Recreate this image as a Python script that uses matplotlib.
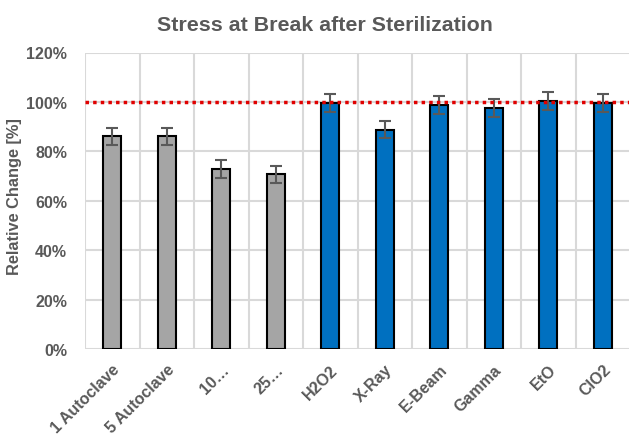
import matplotlib
matplotlib.use("Agg")
import matplotlib.pyplot as plt
import numpy as np

categories = ["1 Autoclave", "5 Autoclave", "10…", "25…", "H2O2", "X-Ray",
              "E-Beam", "Gamma", "EtO", "ClO2"]
values = [86.1, 86.1, 72.9, 70.7, 99.6, 88.8, 98.9, 97.4, 100.5, 99.6]
errors = [3.5, 3.5, 3.5, 3.5, 3.5, 3.5, 3.6, 3.6, 3.6, 3.5]
groups = ["autoclave"] * 4 + ["other"] * 6
yticks = [0, 20, 40, 60, 80, 100, 120]
reference = 100

colors = {"autoclave": "#A5A5A5", "other": "#0070C0"}
text_color = "#595959"
grid_color = "#D9D9D9"

plt.rcParams['font.family'] = ['Liberation Sans', 'DejaVu Sans']

fig = plt.figure(figsize=(6.29, 4.39), dpi=100)
ax = fig.add_axes([85/629, 89/439, 545/629, 296.5/439])

x = np.arange(len(categories))
ax.bar(x, values, width=0.33, color=[colors[g] for g in groups],
       edgecolor="black", linewidth=1.5, zorder=3)
ax.errorbar(x, values, yerr=errors, fmt="none", ecolor="#595959",
            elinewidth=1.5, capsize=4.5, capthick=1.5, zorder=4)
ax.axhline(reference, color="#E00000", linestyle=(0, (1, 1.2)), linewidth=2.5, zorder=5)

ax.set_xlim(-0.5, len(categories) - 0.5)
ax.set_ylim(0, 120)
ax.set_yticks(yticks)
ax.set_yticklabels([f"{t}%" for t in yticks])
ax.set_xticks(x)
ax.set_xticklabels(categories, rotation=45, ha="right", rotation_mode="anchor")

ax.set_xticks(np.arange(len(categories) + 1) - 0.5, minor=True)
ax.grid(which="minor", axis="x", color=grid_color, linewidth=1.5, zorder=0)
ax.grid(which="major", axis="y", color=grid_color, linewidth=1.5, zorder=0)
ax.grid(which="major", axis="x", visible=False)

for s in ax.spines.values():
    s.set_visible(False)
ax.tick_params(which="both", length=0)
ax.tick_params(axis="y", pad=13)
ax.tick_params(axis="x", pad=9)
for lbl in ax.get_xticklabels() + ax.get_yticklabels():
    lbl.set_fontweight("bold")
    lbl.set_color(text_color)
    lbl.set_fontsize(11.5)

ylab = ax.set_ylabel("Relative Change [%]", fontsize=11.8, fontweight="bold", color=text_color)
ylab.set_verticalalignment("center")
ax.yaxis.set_label_coords((15 - 85) / 545, (350 - 196.5) / 296.5)
fig.text(0.516, 0.943, "Stress at Break after Sterilization", ha="center", va="center",
         fontsize=15.4, fontweight="bold", color=text_color)

fig.savefig("out.png", dpi=100)
